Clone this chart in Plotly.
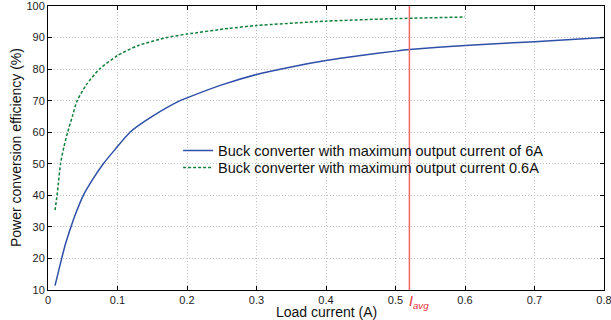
import plotly.graph_objects as go

# Buck converter, max output current 6A
blue_x = [0.0101, 0.0197, 0.025, 0.033, 0.04, 0.0508, 0.065, 0.0796, 0.096, 0.118, 0.15, 0.19, 0.2, 0.25, 0.3, 0.35, 0.4, 0.45, 0.5, 0.52, 0.6, 0.7, 0.8]
blue_y = [11.4, 20, 24.5, 30, 34.3, 40, 45.3, 50, 54.4, 60, 65, 70, 70.9, 75, 78.3, 80.7, 82.7, 84.3, 85.7, 86.2, 87.5, 88.7, 90.0]

# Buck converter, max output current 0.6A
green_x = [0.0101, 0.013, 0.015, 0.018, 0.023, 0.0283, 0.035, 0.042, 0.055, 0.074, 0.1, 0.13, 0.171, 0.2, 0.26, 0.3, 0.4, 0.5, 0.6]
green_y = [35.3, 40, 44, 50, 55.5, 60, 65, 70, 75, 80, 84.3, 87.5, 90, 91.1, 92.9, 93.8, 95.2, 96.0, 96.5]

i_avg = 0.52

x_ticks = [0, 0.1, 0.2, 0.3, 0.4, 0.5, 0.6, 0.7, 0.8]
x_tick_labels = ["0", "0.1", "0.2", "0.3", "0.4", "0.5", "0.6", "0.7", "0.8"]
y_ticks = [10, 20, 30, 40, 50, 60, 70, 80, 90, 100]

font_family = "Liberation Sans, Arial, sans-serif"

fig = go.Figure()
fig.add_trace(go.Scatter(
    x=blue_x, y=blue_y, mode="lines",
    line=dict(color="#2f4fa8", width=1.5, shape="spline", smoothing=0.6),
    name="Buck converter with maximum output current of 6A", legend="legend", showlegend=True))
fig.add_trace(go.Scatter(
    x=green_x, y=green_y, mode="lines",
    line=dict(color="#10803c", width=1.5, dash="3px,2px", shape="spline", smoothing=0.6),
    name="Buck converter with maximum output current 0.6A", legend="legend2", showlegend=True))

fig.add_shape(type="line", xref="x", yref="paper", x0=i_avg, x1=i_avg, y0=0, y1=1,
              line=dict(color="#f06868", width=1.5))
fig.add_annotation(x=i_avg, xref="x", y=0, yref="paper", yshift=-1, xshift=-2, xanchor="left", yanchor="top",
                   text="<i>I<sub>avg</sub></i>", showarrow=False,
                   font=dict(color="#e8303a", size=14, family=font_family))

# Axis titles as annotations for exact placement
fig.add_annotation(x=0.5, xref="paper", y=0, yref="paper", yshift=-12, yanchor="top",
                   text="Load current (A)", showarrow=False,
                   font=dict(size=14, color="#111", family=font_family))
fig.add_annotation(x=0, xref="paper", xshift=-22, xanchor="right", y=0.5, yref="paper",
                   text="Power conversion efficiency (%)", showarrow=False, textangle=-90,
                   font=dict(size=14, color="#111", family=font_family))

axis_common = dict(showline=True, linecolor="black", linewidth=1, mirror="ticks",
                   ticks="inside", ticklen=4, tickcolor="black",
                   showgrid=True, gridcolor="#c4c4c4", griddash="1px,2px", gridwidth=1,
                   zeroline=False, automargin=False, ticklabeloverflow="allow",
                   tickfont=dict(size=11, color="#222", family=font_family))

fig.update_xaxes(range=[0, 0.8], tickvals=x_ticks, ticktext=x_tick_labels, **axis_common)
fig.update_yaxes(range=[10, 100], tickvals=y_ticks, **axis_common)

leg_common = dict(xanchor="left", yanchor="middle", bgcolor="rgba(0,0,0,0)",
                  font=dict(size=14.5, color="#111", family=font_family), itemwidth=30)

fig.update_layout(
    width=611, height=320,
    margin=dict(l=48, r=7, t=6, b=30, autoexpand=False),
    plot_bgcolor="white", paper_bgcolor="white",
    font=dict(family=font_family, color="#111"),
    showlegend=True,
    legend=dict(x=0.234, y=1 - (150.5 - 6) / 284, **leg_common),
    legend2=dict(x=0.234, y=1 - (167.5 - 6) / 284, **leg_common),
)

fig.write_html("out.html", config={"displayModeBar": False},
               post_script="document.body.style.margin='0';")
